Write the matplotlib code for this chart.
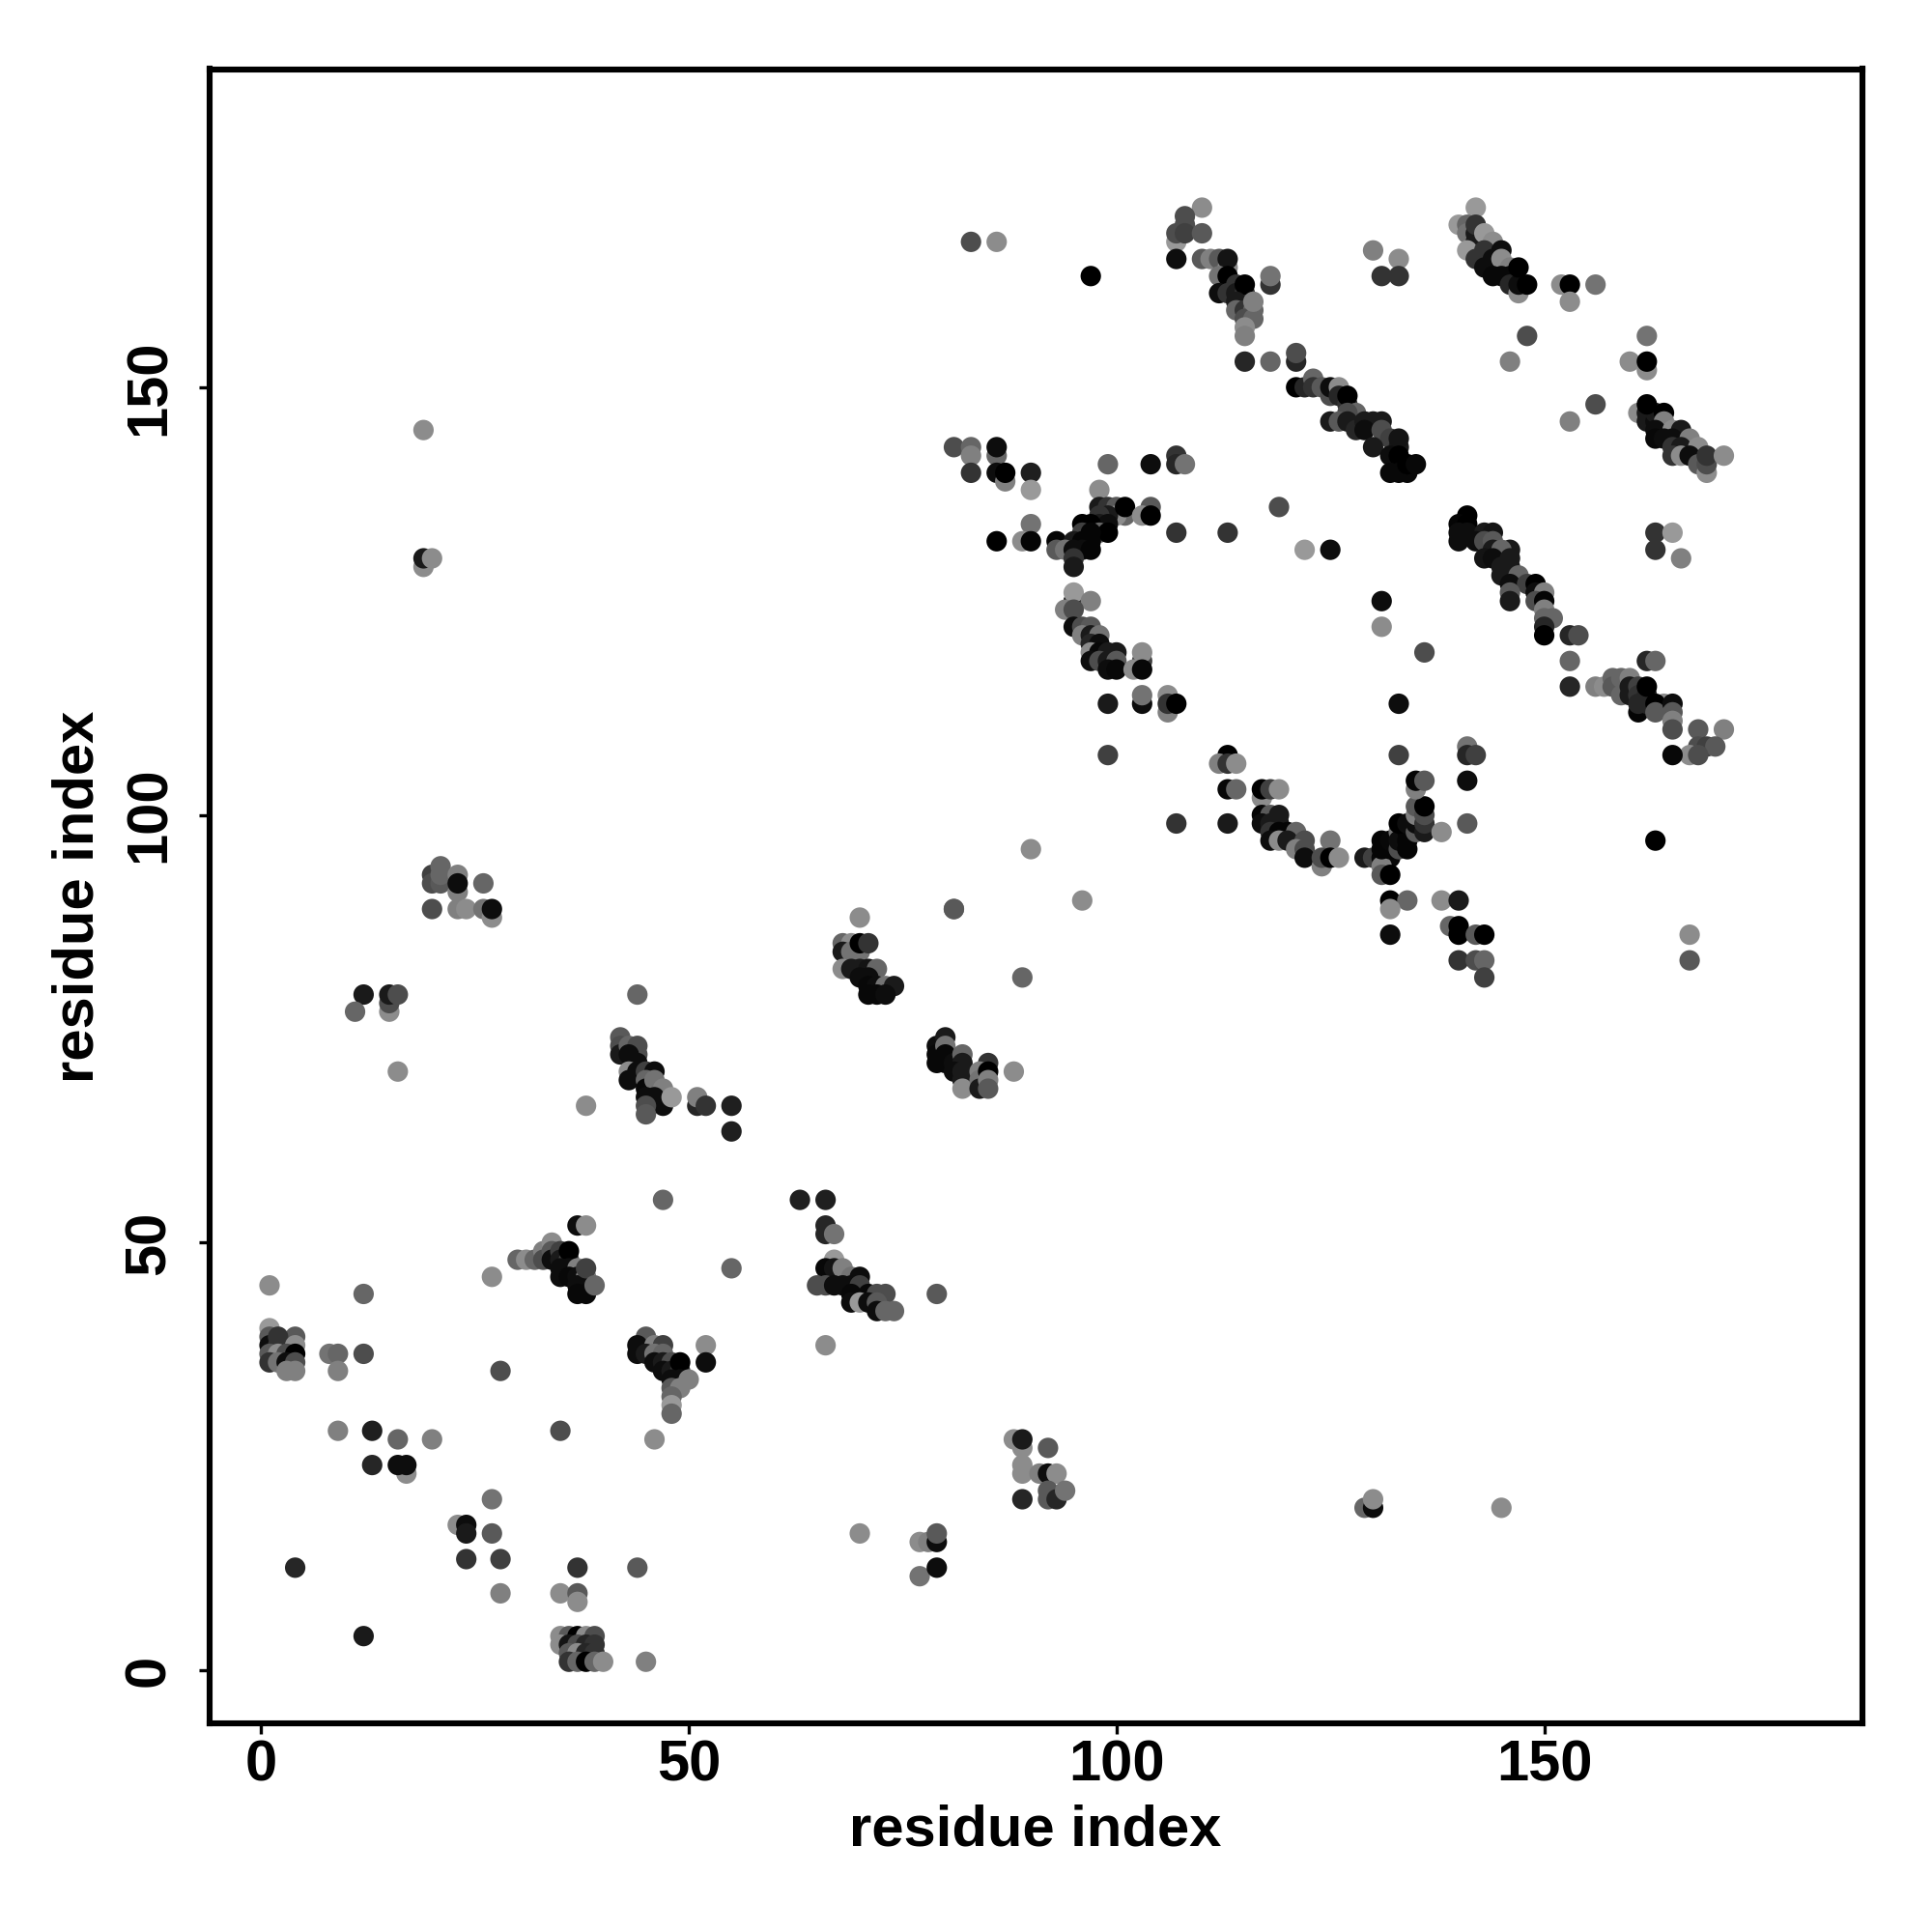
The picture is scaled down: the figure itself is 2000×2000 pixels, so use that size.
import matplotlib
matplotlib.use('Agg')
import matplotlib.pyplot as plt

plt.rcParams['font.family'] = ['Liberation Sans', 'DejaVu Sans']

# contacts, one list per patch: (residue i, residue j, grey level)
patch_top_a = [(110,171,.55),(108,170,.3),(108,169,.3),(107,167,.6),(107,168,.3),(108,168,.25),(110,168,.35),
    (107,165,.05),(110,165,.35),(111,165,.5),(112,165,.35),(113,164,.55),(113,165,.08),(112,163,.45),(113,163,0),
    (112,161,.05),(114,162,.2),(113,161,.2),(114,161,.1),(115,161,.2),(115,162,0),(114,160,.1),(114,159,.4),
    (115,159,.2),(116,159,.4),(115,158,.3),(116,158,.4),(116,160,.5),(115,157,.55),(115,156,.5),
    (118,162,.2),(118,163,.45),(115,153,.15),(118,153,.4),(121,153,.15),(121,154,.3)]
patch_top_b = [(121,150,0),(122,150,.15),(123,151,.4),(123,150,.2),(124,150,.35),(125,149,.3),(125,150,.05),
    (126,150,.55),(126,149,.15),(127,148,.2),(127,149,0),(128,147,.4),(127,147,.3),(125,146,.1),(126,146,.35),
    (127,146,.1),(128,145,.15),(129,146,.1),(130,146,.1),(131,146,.1),(129,145,.05),(131,145,.3),(132,144,.25),
    (130,143,.1),(133,143,.1),(133,144,.08),(132,142,.05),(133,142,0),(132,140,.03),(133,140,.03),(134,140,.03),
    (134,141,0),(135,141,.03)]
patch_top_c = [(142,171,.6),(140,169,.6),(141,169,.4),(141,168,.45),(142,167,.1),(142,168,.1),(142,169,.2),
    (143,168,.6),(144,167,.55),(141,166,.6),(142,165,.2),(143,166,.2),(143,164,.05),(145,166,.05),(144,165,.05),
    (145,165,.55),(146,164,.5),(144,163,.03),(145,163,.03),(146,163,.03),(146,162,.15),(147,161,.55),(147,162,.05),
    (147,164,0),(148,162,0),(152,162,.55),(153,162,0),(156,162,.45),(153,160,.55),(148,156,.3),(146,153,.5)]
patch_top_d = [(162,156,.45),(160,153,.55),(162,152,.55),(162,153,0),(156,148,.3),(153,146,.5),(161,147,.55),
    (162,147,.1),(162,146,.1),(163,146,.05),(163,147,.1),(162,148,0),(164,147,0),(164,146,.5),(163,145,.05),
    (165,145,.55),(166,145,.1),(163,144,.03),(164,144,.05),(165,144,.05),(167,144,.5),(165,143,.2),(166,143,.1),
    (168,143,.55),(165,142,.2),(166,142,.55),(167,142,.05),(168,141,.35),(169,140,.55),(169,141,.3),(169,142,.2),
    (171,142,.55)]
patch_ring_top = [(81,143,.3),(83,143,.4),(83,142,.5),(83,140,.2),(86,142,.4),(86,143,.05),(86,140,.05),(87,139,.5),
    (87,140,0),(90,140,.12),(90,138,.6),(90,134,.45),(89,132,.55),(90,132,.02),(86,132,0),(99,141,.4),(104,141,.05),
    (107,142,.2),(107,141,.15),(108,141,.45),(98,138,.55),(98,136,.1),(99,136,.2),(100,136,.35),(104,136,.35),
    (101,135,.4),(100,135,.55),(99,135,.1),(98,135,.2),(101,136,0),(103,135,.55),(104,135,0),(96,134,0),(98,134,.1),
    (99,134,.05),(97,134,0),(107,133,.2),(113,133,.2),(96,133,.25),(98,133,.4),(99,133,0),(97,133,.02),(93,132,.02),
    (95,132,.1),(96,132,.02),(97,132,.02),(93,131,.35),(94,131,.45),(95,131,.05),(96,131,.05),(97,131,.02),
    (95,130,.2),(95,129,.1),(122,131,.6),(125,131,.05),(119,136,.3)]
patch_ring_left = [(95,125,.05),(95,126,.6),(97,125,.5),(94,124,.5),(95,124,.3),(95,122,.05),(96,122,.3),(97,122,.35),
    (96,121,.5),(97,121,.1),(98,121,.45),(97,120,.15),(98,120,.05),(97,119,.55),(98,119,.03),(99,119,.1),(100,119,.1),
    (103,118,.25),(103,119,.55),(97,118,.05),(98,118,.3),(99,118,.1),(100,118,.35),(99,117,.05),(100,117,.03),
    (102,117,.55),(103,117,.03),(99,113,.1),(103,113,.05),(103,114,.45),(106,112,.5),(106,114,.55),(106,113,.2),
    (107,113,0),(99,107,.25)]
patch_ring_bottom = [(113,107,0),(112,106,.5),(113,106,.2),(114,106,.55),(113,103,.03),(114,103,.4),(117,102,.55),
    (117,103,0),(118,103,.25),(119,103,.55),(107,99,.2),(113,99,.1),(117,100,.02),(118,100,.35),(119,100,.1),
    (117,99,.05),(118,99,.1),(119,99,.1),(118,98,.2),(119,98,.02),(120,98,.02),(121,98,.4),(118,97,.05),(119,97,.55),
    (120,97,.1),(122,97,.3),(125,97,.45),(121,96,.5),(122,96,.3),(122,95,.05),(124,94,.5),(124,95,.3),(125,95,0),
    (126,95,.55),(129,95,.1),(130,95,.25),(131,95,.03),(132,95,.03),(131,94,.5),(131,93,.35),(132,93,0),(131,97,.02),
    (131,96,.02),(132,96,.02),(132,97,.03),(133,98,.45),(133,96,.3),(133,97,.05),(134,96,.02),(134,97,.02),(134,98,.02),
    (133,99,0),(134,99,.05),(135,98,.35),(135,99,.05),(135,100,.5),(135,101,.35),(136,98,.1),(136,99,.2),(136,100,.3),
    (136,101,0),(138,98,.55),(135,103,.5),(135,104,.02),(136,104,.35)]
patch_ring_foot = [(133,107,.25),(132,90,0),(134,90,.4),(132,89,.55),(138,90,.55),(140,90,.1),(139,87,.4),(140,87,0),
    (140,86,0),(142,86,.35),(143,86,0),(132,86,.05),(140,83,.2),(142,83,.3),(143,83,.4),(143,81,.25),(141,99,.35),
    (141,104,.05),(141,108,.45),(141,107,.15),(142,107,.25),(133,113,.05),(136,119,.3),(131,125,.05),(131,122,.55)]
patch_mid_a = [(141,135,0),(140,134,.02),(141,134,0),(140,133,.05),(141,133,.05),(143,133,.1),(144,133,.08),(140,132,.05),
    (142,132,.05),(143,132,.3),(144,132,.35),(146,131,.1),(144,131,.1),(145,131,.4),(143,130,.08),(144,130,.05),
    (146,130,.1),(145,129,.1),(146,129,.1),(145,128,.1),(147,128,.4),(146,127,.05),(148,127,.25),(149,127,0),
    (146,126,.35),(146,125,.1),(149,126,.05),(150,126,.5),(149,125,.3),(150,125,.02),(150,124,.5),(150,123,.4),
    (151,123,.4),(150,122,.15),(150,121,0),(153,121,.15),(154,121,.3),(153,118,.4),(153,115,.15)]
patch_mid_b = [(163,133,.2),(165,133,.6),(163,131,.2),(166,130,.5),(156,115,.5),(157,115,.55),(158,116,.4),(158,115,.35),
    (159,116,.4),(160,116,.5),(159,114,.4),(160,115,.1),(160,114,.1),(161,115,.25),(161,114,.2),(161,112,.02),
    (161,113,.15),(162,114,.15),(162,113,.15),(162,115,0),(162,118,.15),(163,118,.4),(164,113,.55),
    (163,113,0),(163,112,.35),(165,113,.05),(165,112,.35),(165,111,.5),(165,110,.3),(168,110,.35),(171,110,.5),
    (168,108,.3),(169,108,.25),(170,108,.35),(167,107,.55),(168,107,.3),(165,107,.03),(163,97,0),(167,86,.55),
    (167,83,.35)]
patch_sheet_a = [(70,88,.55),(68,85,.4),(69,85,.55),(68,84,.1),(69,84,.45),(70,84,.45),(70,85,0),(71,85,.2),
    (68,82,.55),(69,82,.1),(70,82,.1),(71,82,.08),(72,82,.4),(70,81,.05),(71,81,.05),(71,80,.03),(72,80,.05),
    (73,80,.45),(74,80,.1),(71,79,.03),(72,79,.03),(73,79,.05),(81,89,.4),(89,81,.4)]
patch_sheet_b = [(79,73,.05),(79,72,.03),(79,71,.03),(80,74,.1),(80,73,.45),(80,72,.03),(80,71,.03),(81,71,.05),
    (82,72,.4),(82,71,.1),(81,70,.05),(82,70,.1),(85,71,.2),(82,69,.1),(82,68,.55),(84,70,.5),(84,69,.45),(84,68,.1),
    (85,70,0),(85,69,.5),(85,68,.35),(88,70,.55)]
patch_sheet_c = [(42,74,.35),(42,73,.3),(42,72,.1),(43,73,.4),(44,73,.3),(44,72,.3),(43,72,.05),(44,71,.05),(43,70,.55),
    (43,69,.05),(44,70,.05),(45,70,.25),(46,70,.05),(45,69,.4),(45,68,.03),(46,69,.45),(47,68,.5),(45,67,.05),(46,67,.05),
    (47,66,.05),(48,67,.6),(45,66,.3),(45,65,.35),(51,66,.15),(51,67,.5),(52,66,.2),(55,66,.12),(55,63,.12),(38,66,.55),
    (44,79,.4)]
patch_sheet_d = [(63,55,.12),(66,55,.12),(66,52,.15),(66,51,.15),(67,51,.45),(67,48,.6),(66,47,.03),(67,47,.08),(68,47,.5),
    (69,46,.45),(70,46,.05),(65,45,.3),(66,45,.3),(67,45,.05),(68,45,.05),(69,45,.05),(70,45,.25),(69,44,.03),(71,44,.03),
    (72,44,.3),(73,44,.3),(69,43,.05),(70,43,.6),(71,43,.05),(72,43,.35),(72,42,.05),(73,42,.4),(74,42,.4),(79,44,.35),
    (66,38,.55)]
patch_sheet_e = [(37,52,.05),(38,52,.55),(30,48,.4),(31,48,.55),(32,48,.4),(33,49,.5),(33,48,.3),(34,50,.55),(34,49,.35),
    (34,48,.05),(35,49,.25),(35,48,.1),(36,48,.3),(36,49,0),(35,47,.05),(35,46,.05),(36,47,.05),(37,47,.5),(36,46,.03),
    (37,46,.05),(38,46,.5),(37,45,.05),(38,45,.05),(37,44,.03),(38,44,.03),(38,47,.25),(39,45,.4),(55,47,.4)]
patch_sheet_f = [(45,39,.35),(44,38,.05),(46,38,.5),(47,38,.25),(44,37,.05),(45,37,.1),(46,37,.45),(47,37,.4),(46,36,.05),
    (47,36,.1),(48,36,.3),(47,35,.05),(48,35,.1),(49,35,.2),(49,36,0),(48,34,.05),(49,34,.05),(50,34,.5),(48,33,.35),
    (49,33,.5),(48,32,.4),(48,31,.6),(48,30,.4),(52,38,.55),(52,36,.05),(28,35,.3),(35,28,.3)]
patch_start_a = [(1,45,.55),(12,44,.4),(1,40,.6),(1,39,.35),(4,39,.35),(1,38,.05),(2,38,.2),(2,39,.2),(4,38,.55),(1,37,.35),
    (2,37,.55),(3,37,.3),(4,37,0),(1,36,.2),(2,36,.45),(3,36,.05),(4,36,.3),(3,35,.5),(4,35,.5),(8,37,.45),(9,37,.4),
    (9,35,.5),(12,37,.3)]
patch_start_b = [(35,4,.55),(36,4,.35),(37,4,0),(38,4,.55),(39,4,.3),(35,3,.55),(36,3,.08),(37,3,.3),(38,3,.15),(39,3,.2),
    (36,2,.35),(37,2,.55),(38,2,.15),(39,2,.2),(36,1,.2),(37,1,.4),(38,1,0),(39,1,.4),(40,1,.55),(45,1,.5)]
patch_scatter_a = [(19,145,.55),(19,129,.55),(19,130,.1),(20,130,.55),(20,93,.25),(20,92,.3),(20,89,.3),(21,92,.35),(21,93,.4),
    (21,94,.4),(23,93,.5),(23,91,.5),(23,92,.05),(23,89,.5),(24,89,.55),(26,92,.4),(26,89,.45),(27,88,.55),(27,89,.05),
    (12,79,.1),(11,77,.4),(15,77,.55),(15,78,.3),(15,79,.1),(16,79,.3),(16,70,.55),(47,55,.4),(27,46,.55)]
patch_scatter_b = [(9,28,.5),(13,28,.12),(16,27,.4),(20,27,.5),(46,27,.55),(13,24,.15),(17,23,.55),(16,24,.05),(17,24,.05),
    (23,17,.55),(24,17,.05),(24,16,.1),(27,20,.45),(27,16,.35),(24,13,.2),(28,13,.25),(28,9,.5),(4,12,.15),(12,4,.1),
    (37,12,.2),(44,12,.35),(35,9,.55),(37,9,.35),(37,8,.55),(70,16,.55),(77,15,.55),(78,15,.5),(79,15,.05),(79,16,.35),
    (77,11,.45),(79,12,.05)]
patch_scatter_c = [(88,27,.55),(89,26,.55),(89,27,.1),(92,26,.35),(89,24,.55),(89,23,.55),(91,23,.5),(92,23,.05),(93,23,.55),
    (92,21,.35),(92,20,.35),(93,20,.15),(94,21,.45),(89,20,.15),(129,19,.4),(130,19,.05),(130,20,.55),(145,19,.55),
    (90,96,.55),(96,90,.55),(81,89,.35),(83,167,.3),(86,167,.55),(97,163,0),(130,166,.5),(133,165,.55),(131,163,.2),
    (133,163,.2)]

patches = [patch_top_a, patch_top_b, patch_top_c, patch_top_d, patch_ring_top, patch_ring_left, patch_ring_bottom,
           patch_ring_foot, patch_mid_a, patch_mid_b, patch_sheet_a, patch_sheet_b, patch_sheet_c, patch_sheet_d,
           patch_sheet_e, patch_sheet_f, patch_start_a, patch_start_b, patch_scatter_a, patch_scatter_b, patch_scatter_c]

tick_values = [0, 50, 100, 150]


def main():
    fig = plt.figure(figsize=(10, 10), dpi=200)
    ax = fig.add_axes([217 / 2000, 1 - 1784 / 2000, (1928 - 217) / 2000, (1784 - 71.5) / 2000])

    for patch in patches:
        ax.scatter([p[0] for p in patch], [p[1] for p in patch], s=58,
                   c=[str(p[2]) for p in patch], linewidths=0, zorder=3)

    ax.set_xlim(-6, 187.2)
    ax.set_ylim(-6.2, 187.2)
    ax.set_xticks(tick_values)
    ax.set_yticks(tick_values)
    ax.tick_params(direction='out', length=4, width=1.2, labelsize=21.5)
    ax.tick_params(axis='x', pad=2)
    ax.tick_params(axis='y', pad=8.5)
    for label in ax.get_xticklabels():
        label.set_fontweight('bold')
    for label in ax.get_yticklabels():
        label.set_fontweight('bold')
        label.set_rotation(90)
        label.set_va('center')
    for spine in ax.spines.values():
        spine.set_linewidth(2.2)

    fig.text(1072 / 2000, 1 - 1895 / 2000, 'residue index', fontsize=21.5, fontweight='bold', ha='center', va='center')
    fig.text(81 / 2000, 1 - 928 / 2000, 'residue index', fontsize=21.5, fontweight='bold', ha='center', va='center',
             rotation=90)

    fig.savefig('out.png', dpi=200)


if __name__ == "__main__":
    main()
